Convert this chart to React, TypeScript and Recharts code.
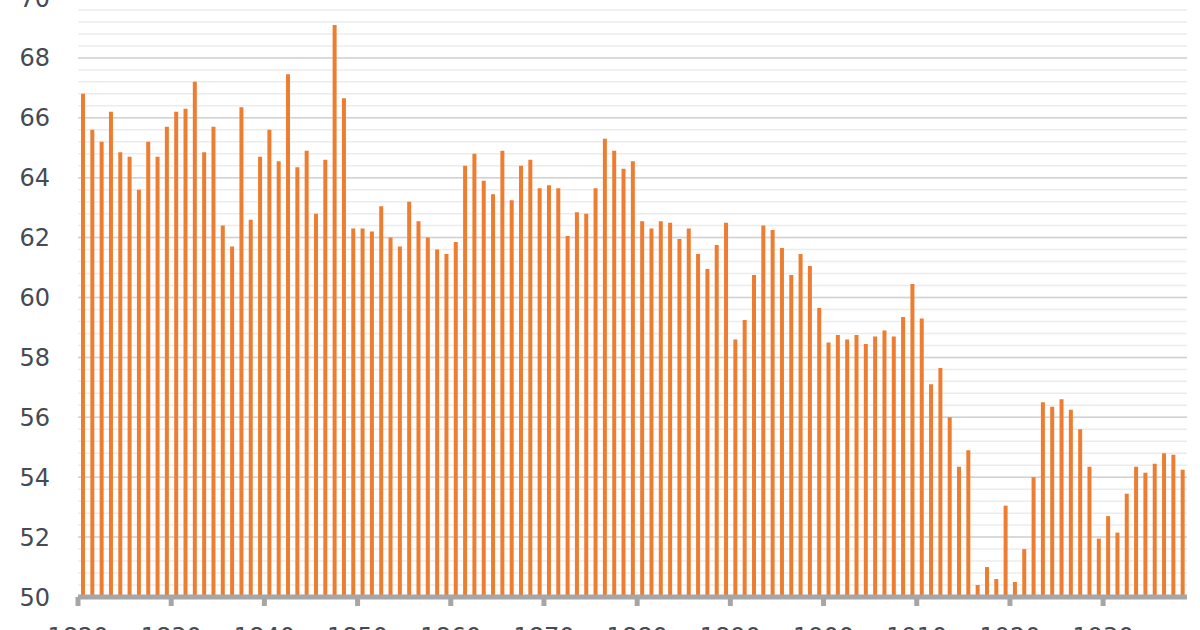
import { BarChart, Bar, XAxis, YAxis, CartesianGrid } from "recharts";

const years = Array.from({ length: 119 }, (_, i) => 1820 + i);

// values, one per year 1820-1938
const values = [
  66.8, 65.6, 65.2, 66.2, 64.85, 64.7, 63.6, 65.2, 64.7, 65.7,
  66.2, 66.3, 67.2, 64.85, 65.7, 62.4, 61.7, 66.35, 62.6, 64.7,
  65.6, 64.55, 67.45, 64.35, 64.9, 62.8, 64.6, 69.1, 66.65, 62.3,
  62.3, 62.2, 63.05, 62.0, 61.7, 63.2, 62.55, 62.0, 61.6, 61.45,
  61.85, 64.4, 64.8, 63.9, 63.45, 64.9, 63.25, 64.4, 64.6, 63.65,
  63.75, 63.65, 62.05, 62.85, 62.8, 63.65, 65.3, 64.9, 64.3, 64.55,
  62.55, 62.3, 62.55, 62.5, 61.95, 62.3, 61.45, 60.95, 61.75, 62.5,
  58.6, 59.25, 60.75, 62.4, 62.25, 61.65, 60.75, 61.45, 61.05, 59.65,
  58.5, 58.75, 58.6, 58.75, 58.45, 58.7, 58.9, 58.7, 59.35, 60.45,
  59.3, 57.1, 57.65, 56.0, 54.35, 54.9, 50.4, 51.0, 50.6, 53.05,
  50.5, 51.6, 54.0, 56.5, 56.35, 56.6, 56.25, 55.6, 54.35, 51.95,
  52.7, 52.15, 53.45, 54.35, 54.15, 54.45, 54.8, 54.75, 54.25,
];

const yTicks = [50, 52, 54, 56, 58, 60, 62, 64, 66, 68, 70];
const minorLines = Array.from({ length: 51 }, (_, i) => 50 + i * 0.4);
const xTicks = [1820, 1830, 1840, 1850, 1860, 1870, 1880, 1890, 1900, 1910, 1920, 1930];

const data = years.map((year, i) => ({ year, value: values[i] }));

// Excel-style axis: tick marks sit between categories, on the left edge of each labelled year
const tickPositions = xTicks.map((y) => y - 0.5);

const labelStyle = { fontSize: 24, fill: "#464a52", fontFamily: "DejaVu Sans" };

export default function App() {
  return (
    <div
      style={{
        position: "fixed",
        left: 0,
        top: 0,
        width: 1200,
        height: 630,
        overflow: "hidden",
        background: "#fff",
      }}
    >
      <div style={{ marginTop: -40 }}>
        <BarChart
          width={1200}
          height={700}
          data={data}
          margin={{ top: 38, right: 13, bottom: 0, left: 0 }}
        >
          <CartesianGrid
            vertical={false}
            horizontalValues={minorLines}
            stroke="#ececec"
            strokeWidth={1.5}
          />
          <CartesianGrid
            vertical={false}
            horizontalValues={yTicks}
            stroke="#d2d2d2"
            strokeWidth={1.5}
          />
          <XAxis
            dataKey="year"
            type="number"
            domain={[1819.5, 1938.5]}
            ticks={tickPositions}
            tickFormatter={(v) => String(v + 0.5)}
            interval={0}
            height={63}
            tick={labelStyle}
            axisLine={{ stroke: "#a6a6a6", strokeWidth: 5 }}
            tickLine={{ stroke: "#a6a6a6", strokeWidth: 5 }}
            tickSize={9}
            tickMargin={22}
          />
          <YAxis
            domain={[50, 70]}
            ticks={yTicks}
            interval={0}
            width={78}
            axisLine={false}
            tickLine={false}
            tickSize={0}
            tickMargin={28}
            tick={labelStyle}
          />
          <Bar dataKey="value" fill="#ed7d31" barSize={4} isAnimationActive={false} />
        </BarChart>
      </div>
    </div>
  );
}
